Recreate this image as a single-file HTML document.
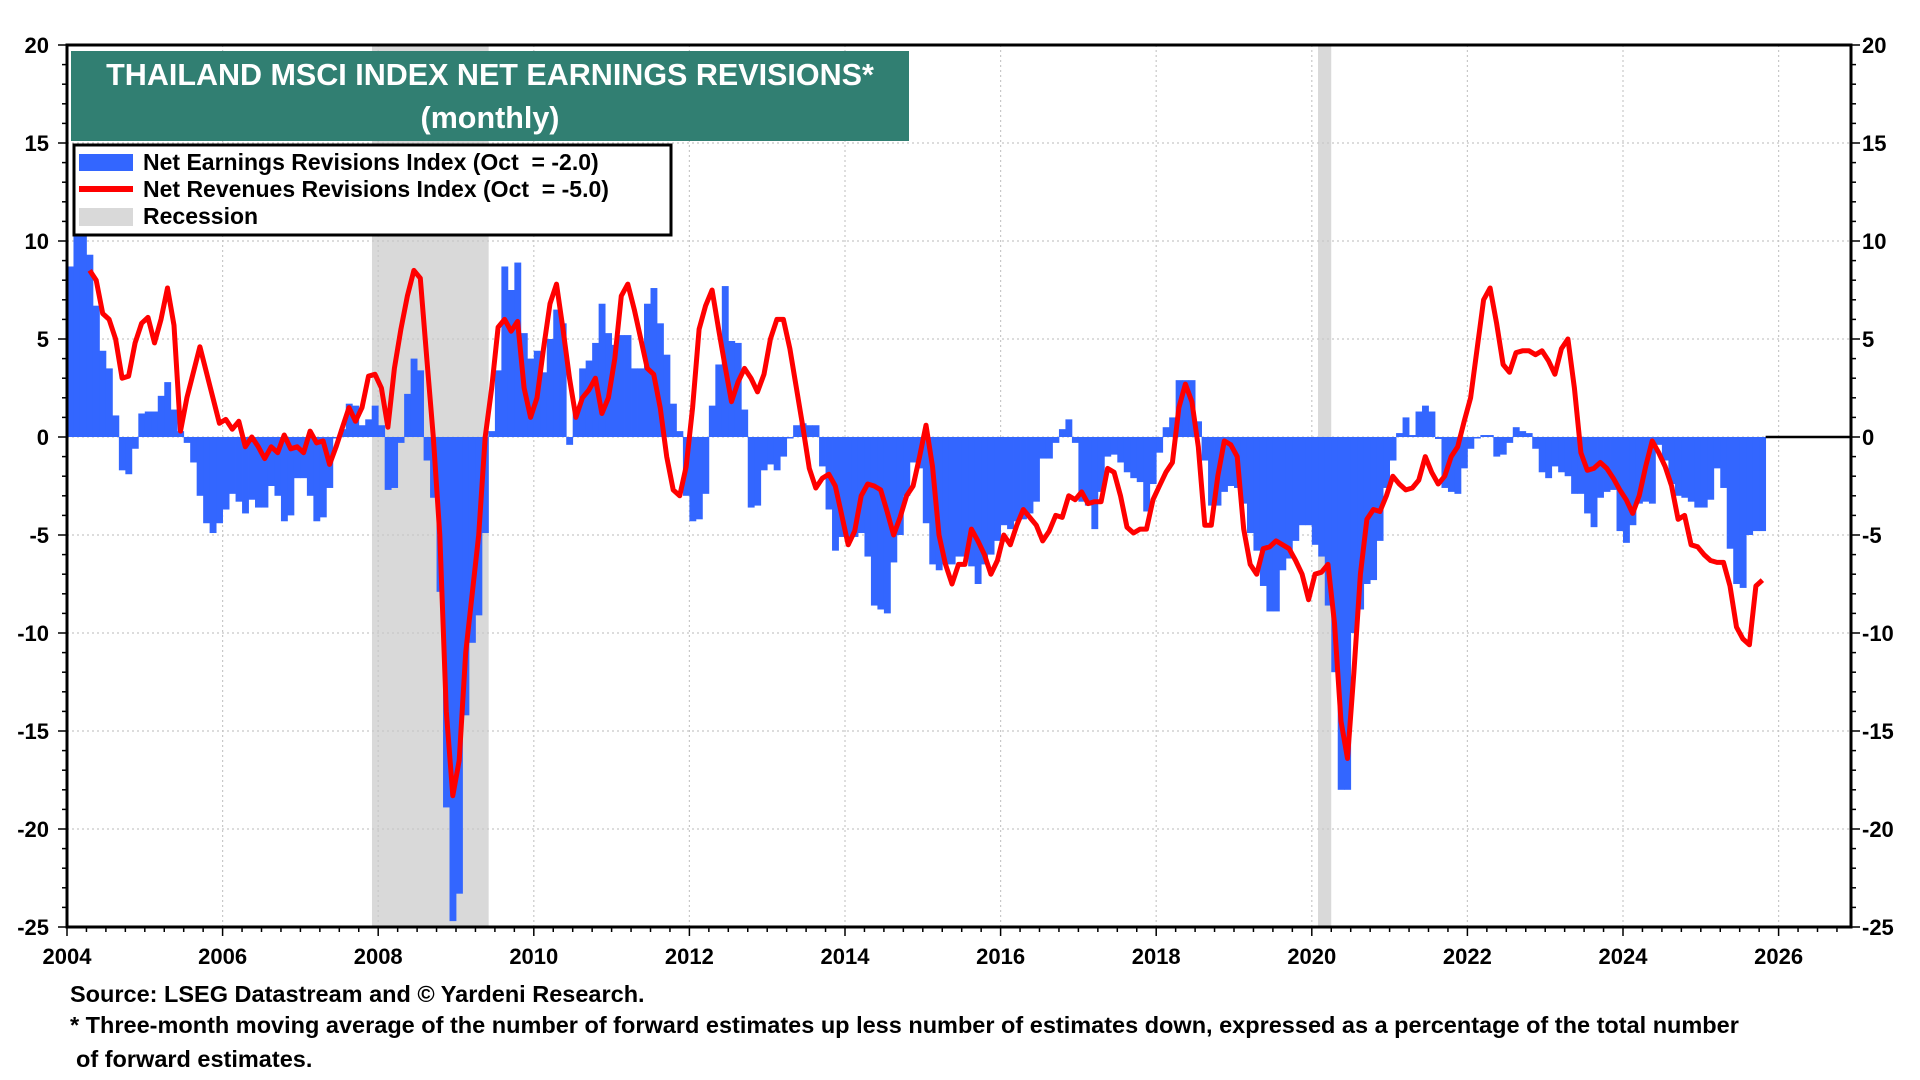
<!DOCTYPE html>
<html><head><meta charset="utf-8"><style>
html,body{margin:0;padding:0;background:#fff;}
svg{display:block;}
text{font-family:"Liberation Sans",Arial,sans-serif;font-weight:bold;white-space:pre;}
</style></head><body>
<svg id="chart" width="1920" height="1080" viewBox="0 0 1920 1080">
<g id="rec"></g>
<g id="grid"></g>
<g id="bars"></g>
<g id="line"></g>
<g id="axes"></g>
<g>
<rect x="71" y="51" width="838" height="90" fill="#317f72"/>
<text x="490" y="85" fill="#fff" font-size="30.5" text-anchor="middle">THAILAND MSCI INDEX NET EARNINGS REVISIONS*</text>
<text x="490" y="128" fill="#fff" font-size="30.5" text-anchor="middle">(monthly)</text>
</g>
<g>
<rect x="74" y="145" width="597" height="90" fill="#fff" stroke="#000" stroke-width="3"/>
<g>
<rect x="79" y="154" width="54" height="17" fill="#3366ff"/>
<text x="143" y="170" font-size="23">Net Earnings Revisions Index (Oct&#160;&#160;= -2.0)</text></g>
<g>
<rect x="79" y="186" width="54" height="6" fill="#ff0000"/>
<text x="143" y="197" font-size="23">Net Revenues Revisions Index (Oct&#160;&#160;= -5.0)</text></g>
<g>
<rect x="79" y="208" width="54" height="18" fill="#d9d9d9"/>
<text x="143" y="224" font-size="23">Recession</text></g>
</g>
<text x="70" y="1002" font-size="23.5">Source: LSEG Datastream and © Yardeni Research.</text>
<text x="70" y="1033" font-size="23.5">* Three-month moving average of the number of forward estimates up less number of estimates down, expressed as a percentage of the total number</text>
<text x="76" y="1067" font-size="23.5">of forward estimates.</text>
</svg>
<script>
const startYear = 2004;
const yTicks = [20,15,10,5,0,-5,-10,-15,-20,-25];
const xTickYears = [2004,2006,2008,2010,2012,2014,2016,2018,2020,2022,2024,2026];
const recessions = [[2007.92,2009.42],[2020.08,2020.25]];
const earnings = [
8.7,10.5,10.5,9.3,6.7,4.4,3.5,1.1,-1.7,-1.9,-0.6,1.2,
1.3,1.3,2.1,2.8,1.4,0.3,-0.3,-1.3,-3,-4.4,-4.9,-4.4,
-3.7,-2.9,-3.3,-3.9,-3.2,-3.6,-3.6,-2.5,-3,-4.3,-4,-2.1,
-2.1,-3,-4.3,-4.1,-2.6,0,0.4,1.7,1.6,0.6,0.9,1.6,
0.6,-2.7,-2.6,-0.3,2.2,4,3.4,-1.2,-3.1,-7.9,-18.9,-24.7,
-23.3,-14.2,-10.5,-9.1,-4.9,0.3,3.4,8.7,7.5,8.9,5.3,4,
4.4,3.3,5,6.5,5.8,-0.4,1.5,3.5,3.9,4.8,6.8,5.3,
4.7,5.2,5.2,3.5,3.5,6.8,7.6,5.8,4.2,1.7,0.3,-3,
-4.3,-4.2,-2.9,1.6,3.7,7.7,4.9,4.8,1.4,-3.6,-3.5,-1.7,
-1.4,-1.7,-1.0,0,0.6,0.7,0.6,0.6,-1.5,-3.7,-5.8,-5.1,
-5.1,-5.1,-4.9,-6.1,-8.6,-8.8,-9,-6.4,-5,-3,-1.3,-1.6,
-4.4,-6.5,-6.8,-6.5,-6.5,-6.1,-6.1,-6.6,-7.5,-6.5,-6,-5.3,
-4.5,-4.7,-4.3,-4.2,-3.9,-3.3,-1.1,-1.1,-0.3,0.4,0.9,-0.3,
-3.3,-3.5,-4.7,-2.8,-1.0,-0.9,-1.3,-1.8,-2.1,-2.3,-3.8,-2.4,
-0.8,0.5,1.0,2.9,2.9,2.9,0.8,-1.2,-3.5,-3.5,-2.8,-2.5,
-2.6,-3.4,-4.9,-5.8,-7.6,-8.9,-8.9,-6.8,-6.2,-5.3,-4.5,-4.5,
-5.5,-6.1,-8.6,-12,-18,-18,-10,-8.8,-7.5,-7.3,-5.3,-2.6,
-1.2,0.2,1.0,0.1,1.3,1.6,1.3,-0.1,-2.6,-2.8,-2.9,-1.6,
-0.6,0,0.1,0.1,-1.0,-0.9,-0.3,0.5,0.3,0.2,-0.6,-1.8,
-2.1,-1.5,-1.8,-2.0,-2.9,-2.9,-3.9,-4.6,-3.1,-2.8,-2.7,-4.8,
-5.4,-4.5,-3.4,-3.3,-3.4,-0.4,-1.2,-2.4,-3.0,-3.1,-3.3,-3.6,
-3.6,-3.2,-1.6,-2.6,-5.7,-7.5,-7.7,-5.0,-4.8,-4.8];
const revenues = [
null,null,null,8.5,8.0,6.3,6.0,5.0,3.0,3.1,4.8,5.8,
6.1,4.8,6.0,7.6,5.7,0.3,2.0,3.3,4.6,3.3,2.0,0.7,
0.9,0.4,0.8,-0.5,0,-0.5,-1.1,-0.5,-0.8,0.1,-0.6,-0.5,
-0.8,0.3,-0.3,-0.2,-1.4,-0.5,0.5,1.5,0.8,1.5,3.1,3.2,
2.5,0.5,3.5,5.5,7.2,8.5,8.1,4,0,-5,-14,-18.3,
-16.5,-11,-8,-5,0,2.5,5.6,6.0,5.4,5.9,2.5,1.0,
2.0,4.5,6.8,7.8,5.5,3.0,1.0,2.0,2.4,3.0,1.2,2.0,
4.0,7.2,7.8,6.5,5.0,3.5,3.2,1.5,-1.0,-2.7,-3.0,-1.5,
1.5,5.5,6.7,7.5,5.5,3.6,1.8,2.8,3.5,3.0,2.3,3.2,
5.0,6.0,6.0,4.5,2.5,0.5,-1.6,-2.6,-2.1,-1.9,-2.5,-4.0,
-5.5,-4.8,-3.0,-2.4,-2.5,-2.7,-3.8,-5.0,-4.1,-3.0,-2.5,-1.0,
0.6,-1.5,-5.0,-6.5,-7.5,-6.5,-6.5,-4.7,-5.3,-6.0,-7.0,-6.3,
-5.0,-5.5,-4.5,-3.7,-4.1,-4.5,-5.3,-4.8,-4.0,-4.1,-3.0,-3.2,
-2.8,-3.4,-3.3,-3.3,-1.6,-1.8,-3.0,-4.6,-4.9,-4.7,-4.7,-3.2,
-2.5,-1.8,-1.3,1.5,2.7,1.8,-0.5,-4.5,-4.5,-2.0,-0.2,-0.4,
-1.0,-4.7,-6.5,-7.0,-5.7,-5.6,-5.3,-5.5,-5.7,-6.3,-7.0,-8.3,
-7.0,-6.9,-6.5,-9.5,-14.5,-16.4,-12.0,-7.0,-4.2,-3.7,-3.8,-3.0,
-2.0,-2.4,-2.7,-2.6,-2.2,-1.0,-1.8,-2.4,-2.0,-1.0,-0.5,0.8,
2.0,4.5,7.0,7.6,5.8,3.7,3.3,4.3,4.4,4.4,4.2,4.4,
3.9,3.2,4.5,5.0,2.5,-0.8,-1.7,-1.6,-1.3,-1.6,-2.1,-2.7,
-3.2,-3.9,-3.0,-1.5,-0.2,-0.8,-1.5,-2.5,-4.2,-4.0,-5.5,-5.6,
-6.0,-6.3,-6.4,-6.4,-7.6,-9.7,-10.3,-10.6,-7.6,-7.3];

const NS='http://www.w3.org/2000/svg';
const L=67,R=1851,T=45,B=927, yMax=20,yMin=-25, x0Year=2004, pxYear=77.8;
const X=yr=>L+(yr-x0Year)*pxYear;
const Y=v=>T+(yMax-v)*(B-T)/(yMax-yMin);
function mk(tag,attrs,parent){const e=document.createElementNS(NS,tag);for(const k in attrs)e.setAttribute(k,attrs[k]);parent.appendChild(e);return e;}
const gRec=document.getElementById('rec'),gGrid=document.getElementById('grid'),gBars=document.getElementById('bars'),gLine=document.getElementById('line'),gAx=document.getElementById('axes');
mk('rect',{x:L,y:T,width:R-L,height:B-T,fill:'#fff'},gRec);
recessions.forEach(r=>{const e=mk('rect',{x:X(r[0]),y:T,width:X(r[1])-X(r[0]),height:B-T,fill:'#d9d9d9'},gRec);

});
yTicks.forEach(v=>{if(v!==yMax&&v!==yMin){mk('line',{x1:L,x2:R,y1:Y(v),y2:Y(v),stroke:'#c8c8c8','stroke-width':1.2,'stroke-dasharray':'2,3'},gGrid);}});
xTickYears.forEach(yr=>{if(yr>x0Year){mk('line',{x1:X(yr),x2:X(yr),y1:T,y2:B,stroke:'#c8c8c8','stroke-width':1.2,'stroke-dasharray':'2,3'},gGrid);}});
const mw=pxYear/12;
earnings.forEach((v,i)=>{if(v===null)return;const x=X(startYear+i/12);const y0=Y(0),y1=Y(v);
const b=mk('rect',{x:x,y:Math.min(y0,y1),width:mw+0.4,height:Math.max(Math.abs(y1-y0),1.5),fill:'#3366ff'},gBars);

});
let d='';revenues.forEach((v,i)=>{if(v===null)return;const x=X(startYear+i/12)+mw/2;d+=(d?'L':'M')+x.toFixed(1)+','+Y(v).toFixed(1);});
const ln=mk('path',{d:d,fill:'none',stroke:'#ff0000','stroke-width':5,'stroke-linejoin':'round'},gLine);


const lastX=X(startYear+earnings.length/12);
mk('line',{x1:lastX,x2:R,y1:Y(0),y2:Y(0),stroke:'#000','stroke-width':2.5},gAx);
mk('rect',{x:L,y:T,width:R-L,height:B-T,fill:'none',stroke:'#000','stroke-width':3},gAx);
for(let v=yMin;v<=yMax;v++){const major=v%5===0;const len=major?9:5;
mk('line',{x1:L-len,x2:L,y1:Y(v),y2:Y(v),stroke:'#000','stroke-width':1.5},gAx);
mk('line',{x1:R,x2:R+len,y1:Y(v),y2:Y(v),stroke:'#000','stroke-width':1.5},gAx);}
yTicks.forEach(v=>{const a=mk('text',{x:49,y:Y(v)+8,'font-size':22,'text-anchor':'end'},gAx);a.textContent=v;


const b=mk('text',{x:1862,y:Y(v)+8,'font-size':22},gAx);b.textContent=v;

});
for(let q=0;q*0.25<=22.9;q++){const yr=x0Year+q*0.25;const major=q%8===0;
mk('line',{x1:X(yr),x2:X(yr),y1:B,y2:B+(major?9:5),stroke:'#000','stroke-width':1.5},gAx);}
xTickYears.forEach(yr=>{const t=mk('text',{x:X(yr),y:964,'font-size':22,'text-anchor':'middle'},gAx);t.textContent=yr;

});
</script>
</body></html>
